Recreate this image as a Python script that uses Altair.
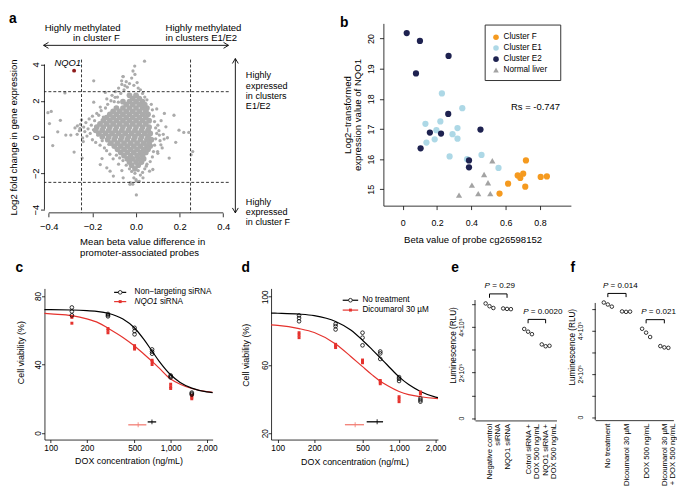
import json
import altair as alt
import pandas as pd

FONT = "Liberation Sans"
RED = "#E5322D"
RED_SOFT = "#F27D74"
GREY = "#ABABAB"
ONE = pd.DataFrame({"k": [0]})

# ---------------- panel a data ----------------
a_core = [
    (-0.03, 2.3), (0.0, 2.3),
    (-0.06, 1.95), (-0.03, 1.95), (0.0, 1.95), (0.03, 1.95),
    (-0.09, 1.6), (-0.06, 1.6), (-0.03, 1.6), (0.0, 1.6), (0.03, 1.6), (0.05, 1.6),
    (-0.12, 1.25), (-0.09, 1.25), (-0.06, 1.25), (-0.03, 1.25), (0.0, 1.25), (0.03, 1.25), (0.055, 1.25),
    (-0.15, 0.9), (-0.12, 0.9), (-0.09, 0.9), (-0.06, 0.9), (-0.03, 0.9), (0.0, 0.9), (0.03, 0.9), (0.06, 0.9),
    (-0.18, 0.55), (-0.15, 0.55), (-0.12, 0.55), (-0.09, 0.55), (-0.06, 0.55), (-0.03, 0.55), (0.0, 0.55), (0.03, 0.55), (0.06, 0.55),
    (-0.17, 0.2), (-0.14, 0.2), (-0.11, 0.2), (-0.08, 0.2), (-0.05, 0.2), (-0.02, 0.2), (0.01, 0.2), (0.04, 0.2), (0.065, 0.2),
    (-0.13, -0.15), (-0.10, -0.15), (-0.07, -0.15), (-0.04, -0.15), (-0.01, -0.15), (0.02, -0.15), (0.05, -0.15), (0.07, -0.15),
    (-0.10, -0.5), (-0.07, -0.5), (-0.04, -0.5), (-0.01, -0.5), (0.02, -0.5), (0.05, -0.5), (0.065, -0.5),
    (-0.07, -0.85), (-0.04, -0.85), (-0.01, -0.85), (0.02, -0.85), (0.045, -0.85),
    (-0.04, -1.2), (-0.015, -1.2), (0.01, -1.2), (0.035, -1.2),
    (-0.02, -1.55), (0.01, -1.55),
    (-0.015, 2.12), (0.015, 2.12),
    (-0.045, 1.78), (-0.015, 1.78), (0.015, 1.78), (0.04, 1.78),
    (-0.105, 1.42), (-0.075, 1.42), (-0.045, 1.42), (-0.015, 1.42), (0.015, 1.42), (0.045, 1.42),
    (-0.135, 1.07), (-0.105, 1.07), (-0.075, 1.07), (-0.045, 1.07), (-0.015, 1.07), (0.015, 1.07), (0.045, 1.07),
    (-0.165, 0.72), (-0.135, 0.72), (-0.105, 0.72), (-0.075, 0.72), (-0.045, 0.72), (-0.015, 0.72), (0.015, 0.72), (0.045, 0.72),
    (-0.185, 0.37), (-0.155, 0.37), (-0.125, 0.37), (-0.095, 0.37), (-0.065, 0.37), (-0.035, 0.37), (-0.005, 0.37), (0.025, 0.37), (0.055, 0.37),
    (-0.155, 0.02), (-0.125, 0.02), (-0.095, 0.02), (-0.065, 0.02), (-0.035, 0.02), (-0.005, 0.02), (0.025, 0.02), (0.055, 0.02),
    (-0.115, -0.33), (-0.085, -0.33), (-0.055, -0.33), (-0.025, -0.33), (0.005, -0.33), (0.035, -0.33), (0.06, -0.33),
    (-0.085, -0.68), (-0.055, -0.68), (-0.025, -0.68), (0.005, -0.68), (0.035, -0.68), (0.055, -0.68),
    (-0.055, -1.03), (-0.025, -1.03), (0.005, -1.03), (0.03, -1.03),
    (-0.03, -1.38), (0.0, -1.38), (0.025, -1.38),
    (-0.005, -1.75),
]
a_pts = [
    (-0.24, 0.55), (-0.235, 0.3), (-0.23, 0.8), (-0.225, 0.05), (-0.22, 0.45), (-0.215, 1.0),
    (-0.21, 0.2), (-0.205, 0.65), (-0.20, -0.15), (-0.20, 1.15), (-0.195, 0.4), (-0.19, 0.9),
    (-0.185, -0.3), (-0.18, 1.3), (-0.175, 0.1), (-0.17, 0.7), (-0.165, -0.45), (-0.16, 1.45),
    (-0.155, -0.2), (-0.15, 1.1), (-0.145, -0.6), (-0.14, 1.6), (-0.135, -0.75), (-0.13, 1.8),
    (-0.125, -0.4), (-0.12, -0.95), (-0.26, 0.35), (-0.255, 0.7), (-0.27, 0.15), (-0.28, 0.5),
    (-0.25, 0.95), (-0.245, -0.05),
    (-0.115, 2.0), (-0.11, 2.3), (-0.10, 1.95), (-0.095, 2.5), (-0.085, 2.2), (-0.08, 2.7),
    (-0.07, 2.4), (-0.065, 2.9), (-0.055, 2.6), (-0.045, 3.05), (-0.04, 2.75), (-0.03, 2.95),
    (-0.02, 3.25), (-0.01, 2.85), (-0.005, 3.45), (0.005, 3.0), (0.01, 2.7), (0.02, 2.6),
    (0.03, 2.4), (0.04, 2.2), (0.05, 2.05), (-0.06, 3.33),
    (0.07, 1.8), (0.075, 1.5), (0.08, 1.15), (0.085, 0.85), (0.09, 0.5), (0.095, 0.2),
    (0.09, -0.1), (0.085, -0.45), (0.08, -0.8), (0.075, -1.1), (0.065, -1.35), (0.10, 0.65),
    (0.105, 0.35), (0.11, -0.2), (0.115, 0.9), (0.12, -0.6), (0.125, 0.15), (0.13, 1.3),
    (0.10, -0.9), (0.095, 1.55),
    (0.05, -1.5), (0.04, -1.75), (0.03, -1.95), (0.02, -2.1), (0.01, -1.85), (-0.005, -2.0),
    (-0.01, -2.25), (-0.02, -1.9), (-0.03, -1.75), (-0.045, -1.55), (-0.06, -1.3), (-0.075, -1.15),
    (-0.09, -1.0), (-0.105, -1.2), (-0.08, -1.5), (-0.065, -1.85), (0.0, -2.35), (0.015, -2.45),
    (-0.015, -2.6),
    (0.039, 4.18), (-0.006, 3.91), (-0.014, 3.64), (-0.066, 3.10), (-0.194, 3.10), (-0.326, 2.43),
    (-0.404, 1.34), (-0.389, 1.41), (-0.397, 0.74), (-0.347, 0.92), (-0.359, 0.29), (-0.382, -0.47),
    (-0.322, 0.11), (-0.299, 0.11), (-0.284, -0.83), (-0.247, -1.16), (-0.269, 0.62), (-0.257, 0.47),
    (-0.242, -0.25), (-0.141, 2.46), (-0.134, 2.10), (-0.059, 3.33), (-0.051, 2.83), (-0.096, 2.19),
    (-0.092, 1.59), (-0.081, 1.92), (-0.164, 1.65), (-0.171, 1.20), (-0.194, 1.92), (0.174, 1.20),
    (0.137, 0.56), (0.197, 0.38), (0.219, 0.25), (0.242, 0.25), (0.182, -0.29), (0.26, -0.80),
    (0.2525, -0.98), (0.152, -1.16), (0.107, 0.11), (0.099, -0.80), (0.077, -1.79), (0.032, -2.25),
    (0.0015, -2.43), (-0.026, -2.52), (-0.059, -2.25), (-0.104, -2.15), (-0.119, -1.88), (-0.134, -1.70),
    (-0.164, -1.52), (-0.156, -1.19), (0.0015, -3.19), (-0.028, -2.61), (0.062, -1.88), (0.047, -1.61),
    (0.114, -0.43), (0.129, -0.11), (0.144, -0.04),
]
a_nqo1 = (-0.284, 3.66)

# ---------------- panel b data ----------------
b_groups = ["Cluster F", "Cluster E1", "Cluster E2", "Normal liver"]
b_colors = ["#F59A1F", "#ADD8E6", "#1E2250", "#A3A3A3"]
b_e1_beta = [0.228, 0.347, 0.132, 0.219, 0.196, 0.319, 0.29, 0.186, 0.319, 0.138, 0.273, 0.459, 0.558, 0.375]
b_e1_expr = [18.18, 17.69, 17.17, 17.25, 16.96, 17.03, 16.83, 16.66, 16.68, 16.55, 16.09, 16.14, 15.71, 16.0]
b_e2_beta = [0.023, 0.10, 0.267, 0.077, 0.265, 0.158, 0.223, 0.104, 0.453, 0.386, 0.386]
b_e2_expr = [20.18, 19.92, 19.42, 18.84, 17.50, 16.88, 16.85, 16.36, 16.98, 15.96, 15.73]
b_f_beta = [0.718, 0.67, 0.702, 0.685, 0.614, 0.714, 0.564, 0.804, 0.84]
b_f_expr = [15.96, 15.46, 15.52, 15.38, 15.19, 15.09, 14.86, 15.41, 15.43]
b_n_beta = [0.522, 0.474, 0.497, 0.403, 0.44, 0.51, 0.328]
b_n_expr = [15.95, 15.49, 15.22, 15.14, 14.86, 14.86, 14.81]
b_rs = "Rs = -0.747"

# ---------------- panel c data ----------------
c_doses = [150, 300, 500, 700, 1000, 1500]
c_ctrl = [[73.3, 71.0, 68.7], [69.5, 68.8, 68.1], [61.4, 59.5, 57.6], [48.8, 47.5, 46.3], [33.6, 33.0, 32.4], [23.6, 23.0, 22.4]]
c_sirna = [[68.1, 67.5, 64.1], [61.0, 60.0, 58.5], [51.0, 50.0, 49.0], [42.5, 41.5, 40.0], [28.5, 27.0, 26.0], [22.0, 21.0, 20.0]]
c_curve_x = [88.6, 100, 150, 200, 250, 300, 400, 500, 600, 700, 800, 1000, 1200, 1500, 2000, 2239]
c_curve_ctrl = [72.0, 72.0, 71.8, 71.4, 70.9, 69.9, 66.5, 61.3, 54.5, 47.8, 42.0, 34.0, 29.5, 26.2, 24.0, 23.6]
c_curve_sirna = [69.8, 69.5, 68.5, 66.6, 64.3, 61.2, 55.8, 50.8, 46.0, 41.8, 38.0, 31.5, 28.5, 26.0, 24.2, 23.8]
c_ic50 = [(698, 643, 757, 6.5), (536, 443, 627, 4.8)]
c_labels = ["Non\u2212targeting siRNA", "NQO1", "siRNA"]

# ---------------- panel d data ----------------
d_doses = [150, 300, 500, 700, 1000, 1500]
d_ctrl = [[89.0, 87.5, 85.6], [84.0, 82.7, 80.8], [78.9, 76.0, 71.5], [67.9, 66.8, 63.5], [52.9, 51.9, 50.6], [40.4, 39.4, 38.5]]
d_dic = [[78.9, 77.5, 76.0], [72.1, 71.1, 70.2], [62.9, 62.1, 61.3], [50.9, 50.0, 49.0], [41.4, 40.0, 38.5], [44.2, 43.3, 43.0]]
d_curve_x = [88.2, 100, 150, 200, 300, 400, 500, 600, 700, 800, 1000, 1200, 1500, 2000, 2092]
d_curve_ctrl = [90.4, 90.3, 89.8, 88.9, 85.5, 80.5, 74.5, 69.0, 64.2, 60.0, 53.0, 48.5, 44.5, 41.2, 40.9]
d_curve_dic = [83.5, 83.2, 81.3, 79.0, 72.3, 65.0, 59.0, 54.2, 50.5, 48.0, 44.5, 42.6, 41.4, 40.4, 40.3]
d_ic50 = [(660, 541, 738, 26.7), (435, 358, 514, 25.0)]
d_labels = ["No treatment", "Dicoumarol 30 \u00b5M"]

# ---------------- panel e / f data ----------------
e_labels = [["Negative control", "siRNA"], "NQO1 siRNA", ["Cotrol siRNA +", "DOX 500 ng/mL"], ["NQO1 siRNA +", "DOX 500 ng/mL"]]
e_vals = [[504000, 492000, 484000], [482000, 480000, 479000], [392000, 380000, 369000], [324000, 316000, 318000]]
e_p = ["0.29", "0.0020"]
f_labels = ["No treatment", "Dicoumarol 30 \u00b5M", "DOX 500 ng/mL", ["Dicoumarol 30 \u00b5M", "+ DOX 500 ng/mL"]]
f_vals = [[529000, 520000, 510000], [488000, 486000, 487000], [408000, 390000, 370000], [328000, 322000, 320000]]
f_p = ["0.014", "0.021"]


def letter(ch, dx, dy):
    return alt.Chart(ONE).mark_text(
        text=ch, font=FONT, fontSize=14, fontWeight="bold", align="left",
        baseline="alphabetic", color="black",
    ).encode(x=alt.value(dx), y=alt.value(dy))


def spacer(l, r, t, b):
    # invisible frame that fixes the extent of a panel inside the figure grid
    return alt.Chart(ONE).mark_rect(opacity=0).encode(
        x=alt.value(l), x2=alt.value(r), y=alt.value(t), y2=alt.value(b))


# ======================= panel a =======================
A_W, A_H = 187, 192.3
ax_sc = alt.Scale(domain=[-0.42, 0.425], nice=False, zero=False)
ay_sc = alt.Scale(domain=[-4.18, 6.265], nice=False, zero=False)
X_a = alt.X("x:Q", scale=ax_sc, axis=alt.Axis(
    values=[-0.4, -0.2, 0, 0.2, 0.4], format=".1f", domain=False, tickSize=4,
    labelPadding=5.3, labelFontSize=9.5, title=["Mean beta value difference in", "promoter-associated probes"],
    titleFontSize=9.7, titleLineHeight=12, titlePadding=5, titleX=35.7, titleAlign="left"))
Y_a = alt.Y("y:Q", scale=ay_sc, axis=alt.Axis(
    values=[-4, -2, 0, 2, 4], domain=False, tickSize=4, labelAngle=270, labelAlign="center",
    labelBaseline="alphabetic", labelPadding=2, labelFontSize=9.5,
    title="Log2 fold change in gene expression", titleFontSize=9.7, titlePadding=12.5, titleY=115.3))

df_a_pts = pd.DataFrame(a_pts, columns=["x", "y"])
df_a_core = pd.DataFrame(a_core, columns=["x", "y"])
a_small = alt.Chart(df_a_pts).mark_circle(size=11, color=GREY, opacity=1).encode(x=X_a, y=Y_a)
a_big = alt.Chart(df_a_core).mark_circle(size=34, color=GREY, opacity=1).encode(x=X_a, y=Y_a)
a_vd = alt.Chart(pd.DataFrame({"x": [-0.25, 0.25], "y": [4.27, 4.27], "y2": [-4.18, -4.18]})).mark_rule(
    color="black", strokeDash=[3, 2], strokeWidth=0.8).encode(x=X_a, y=Y_a, y2="y2:Q")
a_hd = alt.Chart(pd.DataFrame({"y": [2.5, -2.5]})).mark_rule(
    color="black", strokeDash=[3, 2], strokeWidth=0.8).encode(y=Y_a)
a_n = alt.Chart(pd.DataFrame({"x": [a_nqo1[0]], "y": [a_nqo1[1]]})).mark_circle(
    size=16, color="#8E1B1B", opacity=1).encode(x=X_a, y=Y_a)
a_nt = alt.Chart(pd.DataFrame({"x": [-0.252], "y": [4.09]})).mark_text(
    text="NQO1", fontStyle="italic", fontSize=9.5, align="right", baseline="middle", font=FONT
).encode(x=X_a, y=Y_a)
a_xaxis = alt.Chart(pd.DataFrame({"x": [-0.4], "x2": [0.4]})).mark_rule(
    color="black", strokeWidth=0.8).encode(x=X_a, x2="x2:Q", y=alt.value(A_H))
a_yaxis = alt.Chart(pd.DataFrame({"y": [-4], "y2": [4]})).mark_rule(
    color="black", strokeWidth=0.8).encode(y=Y_a, y2="y2:Q", x=alt.value(0))
a_ann = pd.DataFrame({
    "x": [-0.419, -0.2886, 0.1353, 0.1353],
    "y": [5.99, 5.45, 5.99, 5.45],
    "t": ["Highly methylated", "in cluster F", "Highly methylated", "in clusters E1/E2"],
})
a_txt = alt.Chart(a_ann).mark_text(fontSize=9.7, align="left", baseline="middle", font=FONT).encode(
    x=X_a, y=Y_a, text="t:N")
a_side1 = alt.Chart(pd.DataFrame({"x": [0.5037], "y": [3.39]})).mark_text(
    text=["Highly", "expressed", "in clusters", "E1/E2"], lineHeight=10.4, fontSize=9.2, align="left",
    baseline="middle", font=FONT).encode(x=X_a, y=Y_a)
a_side2 = alt.Chart(pd.DataFrame({"x": [0.5037], "y": [-3.565]})).mark_text(
    text=["Highly", "expressed", "in cluster F"], lineHeight=10.4, fontSize=9.2, align="left",
    baseline="middle", font=FONT).encode(x=X_a, y=Y_a)
a_arr = pd.DataFrame({
    "x": [-0.424, -0.424, -0.424, 0.4239, 0.4239, 0.4555, 0.4555, 0.4555, 0.4555, 0.4555],
    "y": [5.054, 5.054, 5.054, 5.054, 5.054, 4.326, 4.326, 4.326, -4.18, -4.18],
    "x2": [0.4239, -0.4015, -0.4015, 0.4014, 0.4014, 0.4555, 0.442, 0.469, 0.442, 0.469],
    "y2": [5.054, 5.217, 4.891, 5.217, 4.891, -4.18, 4.0545, 4.0545, -3.9085, -3.9085],
})
a_arrows = alt.Chart(a_arr).mark_rule(color="black", strokeWidth=0.9).encode(
    x=X_a, y=Y_a, x2="x2:Q", y2="y2:Q")
panel_a = alt.layer(
    spacer(-37, 263, -12, 239),
    a_small, a_big, a_vd, a_hd, a_n, a_nt, a_xaxis, a_yaxis, a_txt, a_side1, a_side2, a_arrows,
    letter("a", -36, 0)
).properties(width=A_W, height=A_H)

# ======================= panel b =======================
B_W, B_H = 190.3, 185
bx_sc = alt.Scale(domain=[-0.113, 0.98], nice=False, zero=False)
by_sc = alt.Scale(domain=[14.46, 20.5], nice=False, zero=False)
X_b = alt.X("x:Q", scale=bx_sc, axis=alt.Axis(
    values=[0, 0.2, 0.4, 0.6, 0.8], labelExpr="datum.value == 0 ? '0' : format(datum.value, '.1f')",
    tickSize=4, labelPadding=9.5, labelFontSize=9, title="Beta value of probe cg26598152",
    titleFontSize=9.7, titlePadding=7, titleX=90.5))
Y_b = alt.Y("y:Q", scale=by_sc, axis=alt.Axis(
    values=[15, 16, 17, 18, 19, 20], tickSize=4, labelAngle=270, labelAlign="center",
    labelBaseline="alphabetic", labelPadding=6, labelFontSize=9,
    title=["Log2\u2212transformed", "expression value of NQO1"], titleFontSize=9.7,
    titleLineHeight=10, titlePadding=4.5))
rows = []
for g, bx, by in [("Cluster E1", b_e1_beta, b_e1_expr), ("Cluster E2", b_e2_beta, b_e2_expr),
                  ("Cluster F", b_f_beta, b_f_expr), ("Normal liver", b_n_beta, b_n_expr)]:
    for xv, yv in zip(bx, by):
        rows.append({"x": xv, "y": yv, "g": g})
df_b = pd.DataFrame(rows)
COL_B = alt.Color("g:N", scale=alt.Scale(domain=b_groups, range=b_colors), legend=None)
SHP_B = alt.Shape("g:N", scale=alt.Scale(domain=b_groups, range=["circle", "circle", "circle", "triangle-up"]),
                  legend=None)
b_pts = alt.Chart(df_b).mark_point(filled=True, size=40, opacity=1).encode(
    x=X_b, y=Y_b, color=COL_B, shape=SHP_B)
b_rs_t = alt.Chart(pd.DataFrame({"x": [0.631], "y": [17.74]})).mark_text(
    text=b_rs, fontSize=9.6, align="left", baseline="middle", font=FONT).encode(x=X_b, y=Y_b)
leg_rows_b = [14, 25, 36.3, 47.3]
df_leg_b = pd.DataFrame({"g": b_groups, "yp": leg_rows_b})
b_leg_box = alt.Chart(ONE).mark_rect(fill="white", stroke="#333333", strokeWidth=1).encode(
    x=alt.value(103.3), x2=alt.value(180), y=alt.value(1.7), y2=alt.value(58))
b_leg_sym = alt.Chart(df_leg_b).mark_point(filled=True, size=32, opacity=1).encode(
    x=alt.value(114.3), y=alt.Y("yp:Q", scale=None), color=COL_B, shape=SHP_B)
b_leg_txt = alt.Chart(df_leg_b).mark_text(fontSize=8.3, align="left", baseline="middle", font=FONT).encode(
    x=alt.value(122), y=alt.Y("yp:Q", scale=None), text="g:N")
panel_b = alt.layer(spacer(-80.7, 219.3, -12, 239),
                    b_pts, b_rs_t, b_leg_box, b_leg_sym, b_leg_txt, letter("b", -44, 3.3)).properties(
    width=B_W, height=B_H)


# ======================= panels c / d =======================
def dose_panel(ch, doses, ctrl, trt, cx, cctrl, ctrt, ic50, W, H, xdom, ydom, yvals,
               leg_rows, leg_line, leg_text_x, leg_labels, italic_first_word, let_pos, frame, title_y,
               x_lab_pad, y_title_pad):
    xs = alt.Scale(type="log", domain=xdom, nice=False)
    ys = alt.Scale(domain=ydom, nice=False, zero=False)
    X = alt.X("d:Q", scale=xs, axis=alt.Axis(
        values=[100, 200, 500, 1000, 2000], format=",d", tickSize=3, labelPadding=x_lab_pad,
        labelFontSize=8.4, title="DOX concentration (ng/mL)", titleFontSize=9, titlePadding=5.5))
    Y = alt.Y("v:Q", scale=ys, axis=alt.Axis(
        values=yvals, tickSize=3, labelAngle=270, labelAlign="center", labelBaseline="alphabetic",
        labelPadding=0.5, labelFontSize=8.4, title="Cell viability (%)", titleFontSize=9,
        titlePadding=y_title_pad, titleY=title_y))
    pc = pd.DataFrame([{"d": d, "v": v} for d, vs in zip(doses, ctrl) for v in vs])
    pt = pd.DataFrame([{"d": d, "v": v} for d, vs in zip(doses, trt) for v in vs])
    cc = pd.DataFrame({"d": cx, "v": cctrl})
    ct = pd.DataFrame({"d": cx, "v": ctrt})
    eb = pd.DataFrame([{"d": m, "lo": lo, "hi": hi, "v": y, "s": s}
                       for (m, lo, hi, y), s in zip(ic50, ["c", "t"])])
    layers = [
        spacer(*frame),
        alt.Chart(ct).mark_line(color=RED, strokeWidth=1.2, interpolate="monotone").encode(x=X, y=Y),
        alt.Chart(cc).mark_line(color="black", strokeWidth=1.2, interpolate="monotone").encode(x=X, y=Y),
        alt.Chart(pt).mark_square(size=9, color=RED, opacity=1).encode(x=X, y=Y),
        alt.Chart(pc).mark_point(shape="circle", filled=False, size=14, strokeWidth=0.8,
                                 color="black", opacity=1).encode(x=X, y=Y),
    ]
    for s, col in [("c", "black"), ("t", RED_SOFT)]:
        sub = eb[eb.s == s]
        layers.append(alt.Chart(sub).mark_rule(color=col, strokeWidth=1.3).encode(
            x=alt.X("lo:Q", scale=xs), x2="hi:Q", y=alt.Y("v:Q", scale=ys)))
        layers.append(alt.Chart(sub).mark_tick(color=col, orient="vertical", size=5, thickness=1.2).encode(
            x=alt.X("d:Q", scale=xs), y=alt.Y("v:Q", scale=ys)))
    (l0, l1), mk = leg_line, (leg_line[0] + leg_line[1]) / 2
    for i, (ypix, col) in enumerate(zip(leg_rows, ["black", RED])):
        layers.append(alt.Chart(ONE).mark_rule(color=col, strokeWidth=1.2).encode(
            x=alt.value(l0), x2=alt.value(l1), y=alt.value(ypix)))
        if i == 0:
            layers.append(alt.Chart(ONE).mark_point(shape="circle", filled=True, fill="white", stroke="black",
                                                    size=14, strokeWidth=0.8, opacity=1).encode(
                x=alt.value(mk), y=alt.value(ypix)))
        else:
            layers.append(alt.Chart(ONE).mark_square(size=9, color=RED, opacity=1).encode(
                x=alt.value(mk), y=alt.value(ypix)))
    layers.append(alt.Chart(ONE).mark_text(text=leg_labels[0], fontSize=8.3, align="left", baseline="middle",
                                           font=FONT).encode(x=alt.value(leg_text_x), y=alt.value(leg_rows[0])))
    if italic_first_word:
        layers.append(alt.Chart(ONE).mark_text(text=leg_labels[1], fontSize=8.3, fontStyle="italic", align="left",
                                               baseline="middle", font=FONT).encode(
            x=alt.value(leg_text_x), y=alt.value(leg_rows[1])))
        layers.append(alt.Chart(ONE).mark_text(text=leg_labels[2], fontSize=8.3, align="left", baseline="middle",
                                               font=FONT).encode(
            x=alt.value(leg_text_x + 25.8), y=alt.value(leg_rows[1])))
    else:
        layers.append(alt.Chart(ONE).mark_text(text=leg_labels[1], fontSize=8.3, align="left", baseline="middle",
                                               font=FONT).encode(
            x=alt.value(leg_text_x), y=alt.value(leg_rows[1])))
    layers.append(letter(ch, let_pos[0], let_pos[1]))
    return alt.layer(*layers).properties(width=W, height=H)


panel_c = dose_panel("c", c_doses, c_ctrl, c_sirna, c_curve_x, c_curve_ctrl, c_curve_sirna, c_ic50,
                     170.7, 153.4, [88.6, 2239], [-3.8, 84.4], [0, 20, 40, 60, 80],
                     [4, 13.4], (70.7, 83), 91.4, c_labels, True, (-29.3, -16.6),
                     (-29.3, 196, -29.5, 201.7), 64.7, 0.8, 8.5)
panel_d = dose_panel("d", d_doses, d_ctrl, d_dic, d_curve_x, d_curve_ctrl, d_curve_dic, d_ic50,
                     169.4, 153.4, [88.2, 2092], [16.3, 104.85], [20, 40, 60, 80, 100],
                     [12, 22], (72.7, 88.4), 92.7, d_labels, False, (-30, -16.6),
                     (-33.3, 178.7, -29.5, 201.7), 67.4, 1.6, 10)


# ======================= panels e / f =======================
def lum_panel(ch, labels, vals, pvals, gap, W, H, ydom, axis_top, px_unit, first_px, let_pos, frame,
              title_y, lab_pad):
    pos = [1, 2, 3 + gap, 4 + gap]
    left = pos[0] - first_px / px_unit
    xs = alt.Scale(domain=[left, left + W / px_unit], nice=False, zero=False)
    ys = alt.Scale(domain=ydom, nice=False, zero=False)
    expr = ""
    for p, lab in zip(pos[:-1], labels[:-1]):
        expr += f"abs(datum.value - {p}) < 0.01 ? {json.dumps(lab, ensure_ascii=False)} : "
    expr += json.dumps(labels[-1], ensure_ascii=False)
    X = alt.X("x:Q", scale=xs, axis=alt.Axis(
        values=pos, labelExpr=expr, ticks=False, labelAngle=270, labelAlign="right",
        labelBaseline="middle", labelPadding=3, labelFontSize=7.8, labelLineHeight=8.5, title=None))
    Y = alt.Y("y:Q", scale=ys, axis=alt.Axis(
        values=[0, 100000, 200000, 300000, 400000, 500000], domain=False,
        labelExpr="datum.value == 0 ? '0' : ((datum.value == 200000 || datum.value == 400000) ? (datum.value / 100000) + '\u00d710\u2075' : '')",
        tickSize=3.5, labelAngle=270, labelAlign="center", labelBaseline="alphabetic",
        labelPadding=lab_pad, labelFontSize=7, title="Luminescence (RLU)", titleFontSize=8.3, titlePadding=0,
        titleY=title_y))
    jit = [-0.22, 0.0, 0.22]
    pts = pd.DataFrame([{"x": p + jit[j], "y": v} for p, vs in zip(pos, vals) for j, v in enumerate(vs)])
    segs, ptxt = [], []
    for k, (i1, i2) in enumerate([(0, 1), (2, 3)]):
        top = max(vals[i1] + vals[i2]) + 42000
        leg = top - 17000
        segs += [{"x": pos[i1], "x2": pos[i2], "y": top, "y2": top},
                 {"x": pos[i1], "x2": pos[i1], "y": top, "y2": leg},
                 {"x": pos[i2], "x2": pos[i2], "y": top, "y2": leg}]
        ptxt.append({"x": pos[i1], "y": top, "t": "= " + pvals[k]})
    segs = pd.DataFrame(segs)
    ptxt = pd.DataFrame(ptxt)
    layers = [
        spacer(*frame),
        alt.Chart(pd.DataFrame({"y": [ydom[0]], "y2": [axis_top]})).mark_rule(
            color="black", strokeWidth=0.8).encode(y=Y, y2="y2:Q", x=alt.value(0)),
        alt.Chart(pts).mark_point(shape="circle", filled=False, size=13, strokeWidth=0.8,
                                  color="black", opacity=1).encode(x=X, y=Y),
        alt.Chart(segs).mark_rule(color="black", strokeWidth=1).encode(x=X, x2="x2:Q", y=Y, y2="y2:Q"),
        alt.Chart(ptxt).mark_text(text="P", fontStyle="italic", fontSize=8.2, align="left", baseline="middle",
                                  dx=-5, dy=-7.5, font=FONT).encode(x=X, y=Y),
        alt.Chart(ptxt).mark_text(fontSize=8.2, align="left", baseline="middle", dx=2.8, dy=-7.5,
                                  font=FONT).encode(x=X, y=Y, text="t:N"),
        letter(ch, let_pos[0], let_pos[1]),
    ]
    return alt.layer(*layers).properties(width=W, height=H)


panel_e = lum_panel("e", e_labels, e_vals, e_p, 0.2, 82.7, 134, [-9960, 570100], 519000, 17.8, 14.7,
                    (-24, -16.6), (-27.5, 92, -29.5, 201.7), 57.5, 8)
panel_f = lum_panel("f", f_labels, f_vals, f_p, 0.1, 79.3, 133.7, [-13600, 594100], 527000, 18.5, 12.8,
                    (-25, -16.6), (-29.7, 81.8, -29.5, 201.7), 59.2, 9.5)

top = alt.hconcat(panel_a, panel_b, spacing=0)
bottom = alt.hconcat(panel_c, panel_d, panel_e, panel_f, spacing=0)
chart = alt.vconcat(top, bottom, spacing=0).properties(
    padding={"left": 0, "top": 0, "right": 0, "bottom": 0}
).configure_view(stroke=None).configure_axis(
    labelFont=FONT, titleFont=FONT, labelColor="black", titleColor="black", domainColor="black",
    tickColor="black", domainWidth=0.8, tickWidth=0.8, grid=False, titleFontWeight="normal",
    labelFlush=False, labelOverlap=False
).configure_text(font=FONT)

chart.save("out.html", embed_options={"renderer": "svg", "actions": False})
